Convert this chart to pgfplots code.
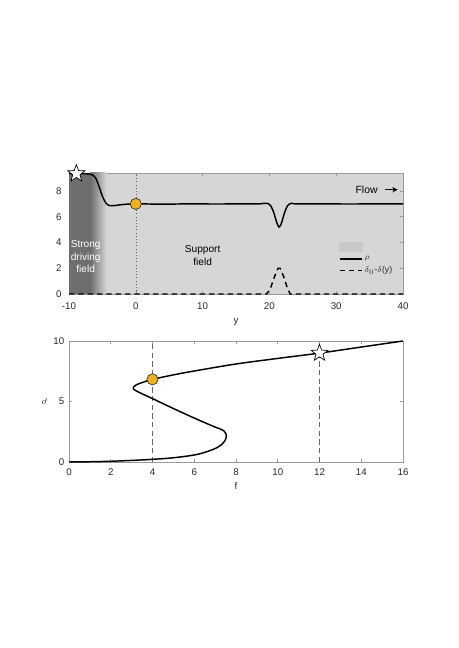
\documentclass[border=0pt]{standalone}
\usepackage{pgfplots}
\pgfplotsset{compat=1.18}
\usepackage{fontspec}
\setmainfont{Liberation Sans}
\usetikzlibrary{arrows.meta}
\definecolor{mlorange}{HTML}{EDB120}
\definecolor{bgfield}{gray}{0.84}
\definecolor{darkfield}{gray}{0.43}

% five point star, outline
\pgfdeclareplotmark{fivestar}{%
  \pgfpathmoveto{\pgfpointpolar{90}{\pgfplotmarksize}}%
  \pgfpathlineto{\pgfpointpolar{126}{0.42\pgfplotmarksize}}%
  \pgfpathlineto{\pgfpointpolar{162}{\pgfplotmarksize}}%
  \pgfpathlineto{\pgfpointpolar{198}{0.42\pgfplotmarksize}}%
  \pgfpathlineto{\pgfpointpolar{234}{\pgfplotmarksize}}%
  \pgfpathlineto{\pgfpointpolar{270}{0.42\pgfplotmarksize}}%
  \pgfpathlineto{\pgfpointpolar{306}{\pgfplotmarksize}}%
  \pgfpathlineto{\pgfpointpolar{342}{0.42\pgfplotmarksize}}%
  \pgfpathlineto{\pgfpointpolar{18}{\pgfplotmarksize}}%
  \pgfpathlineto{\pgfpointpolar{54}{0.42\pgfplotmarksize}}%
  \pgfpathclose\pgfusepathqfillstroke}

\pgfplotsset{
  mlstyle/.style={
    scale only axis, width=250.5pt, height=90.75pt,
    anchor=south west,
    axis line style={black!40}, tick style={black!40, line width=0.4pt},
    major tick length=2.4pt,
    tick label style={font=\fontsize{7.3}{8.5}\selectfont, text=black!85},
    label style={font=\fontsize{7.3}{8.5}\selectfont, text=black!85},
    /pgf/number format/assume math mode=true,
    clip=false,
  },
}

\begin{document}
\begin{tikzpicture}[font=\fontsize{7.3}{8.5}\selectfont]
\useasboundingbox (0,0) rectangle (343.5pt,486pt);

% ---- top: profile along y
\begin{axis}[mlstyle, at={(51.75pt,265.5pt)},
  xmin=-10, xmax=40, ymin=0, ymax=9.4,
  xtick={-10,0,...,40}, ytick={0,2,...,8},
  xticklabel style={yshift=-3pt},
  yticklabel style={xshift=-2pt},
  axis background/.style={fill=bgfield},
  xlabel={y},
  x label style={at={(axis description cs:0.5,-0.24)}, anchor=base},
  legend style={at={(0.795,0.465)}, anchor=north west, draw=none, fill=none,
    font=\fontsize{6.5}{7.5}\selectfont, row sep=1.2pt, text=black!85,
    nodes={inner sep=1.2pt}},
  legend cell align=left,
]
\addplot[draw=none, fill=darkfield, forget plot] coordinates {(-10,0) (-6.8,0) (-6.8,9.4) (-10,9.4)} --cycle;
\addplot[draw=none, left color=darkfield, right color=bgfield, forget plot] coordinates {(-6.8,0) (-4.4,0) (-4.4,9.4) (-6.8,9.4)} --cycle;
\addplot[black!60, dotted, line width=0.4pt, forget plot] coordinates {(0,0) (0,9.4)};

\addlegendimage{legend image code/.code={\fill[black!21] (0cm,-0.12cm) rectangle (0.6cm,0.12cm);}}
\addlegendentry{\strut}

\addplot[black, line width=1.1pt, smooth, tension=0.5] coordinates {
  (-10,9.35) (-8,9.35) (-7,9.32) (-6.5,9.25) (-6,9.0) (-5.5,8.35) (-5,7.6)
  (-4.5,7.08) (-4,6.88) (-3.3,6.86) (-2,6.95) (0,7.0) (4,6.98) (8,7.0)
  (12,6.99) (16,7.0) (18.5,7.0) (19.6,7.05) (20.2,6.85) (20.7,6.25)
  (21.1,5.55) (21.45,5.2) (21.8,5.5) (22.2,6.2) (22.7,6.85) (23.3,7.05)
  (24,7.0) (28,7.0) (32,6.99) (36,7.0) (40,7.0)};
\addlegendentry{$\rho$}

\addplot[black, line width=1.1pt, dash pattern=on 4pt off 3pt] coordinates {
  (-10,0) (19.6,0) (20.2,0.5) (20.8,1.4) (21.3,2.0) (21.6,2.0) (22.1,1.4)
  (22.6,0.6) (23.1,0) (40,0)};
\addlegendentry{$\delta_0$-$\delta$(y)}

\addplot[only marks, mark=fivestar, mark size=6.8pt, fill=white, draw=black, line width=0.5pt, forget plot] coordinates {(-8.9,9.35)};
\addplot[only marks, mark=*, mark size=4.2pt, fill=mlorange, draw=black!80, line width=0.5pt, forget plot] coordinates {(0,7.0)};

\node[align=center, text=white, font=\fontsize{7.6}{9.6}\selectfont] at (axis cs:-7.5,2.9) {Strong\\driving\\field};
\node[align=center, font=\fontsize{7.6}{9.6}\selectfont] at (axis cs:10,3.0) {Support\\field};
\node[anchor=east, font=\fontsize{7.8}{9}\selectfont] at (axis cs:36.9,8.1) {Flow};
\draw[-{Stealth[length=4pt,width=4pt]}, line width=1.1pt] (axis cs:37.3,8.1) -- (axis cs:39.2,8.1);
\end{axis}

% ---- bottom: S-curve rho vs f
\begin{axis}[mlstyle, at={(51.75pt,139.5pt)},
  xmin=0, xmax=16, ymin=0, ymax=10,
  xtick={0,2,...,16}, ytick={0,5,10},
  xticklabel style={yshift=-1.5pt},
  xlabel={f}, ylabel={$\rho$},
  x label style={at={(axis description cs:0.5,-0.226)}, anchor=base},
  y label style={at={(axis description cs:-0.073,0.5)}, anchor=center, rotate=90},
]
\addplot[black!60, line width=0.5pt, dash pattern=on 4pt off 2.5pt] coordinates {(4,0) (4,10)};
\addplot[black!60, line width=0.5pt, dash pattern=on 4pt off 2.5pt] coordinates {(12,0) (12,10)};
\addplot[black, line width=1.1pt, smooth, tension=0.6] coordinates {
  (0,0) (1,0.02) (2,0.06) (3,0.13) (4,0.22) (5,0.35) (6,0.58) (6.6,0.85)
  (7.1,1.2) (7.4,1.6) (7.54,2.12) (7.4,2.6) (6.95,2.92) (5.95,3.67)
  (4.9,4.5) (4,5.24) (3.4,5.72) (3.08,6.05) (3.2,6.35) (3.6,6.62)
  (4,6.83) (5,7.2) (6,7.52) (8,8.1) (10,8.56) (12,9.0) (14,9.5) (16,10.0)};
\addplot[only marks, mark=fivestar, mark size=6.6pt, fill=white, draw=black, line width=0.5pt] coordinates {(12,9.0)};
\addplot[only marks, mark=*, mark size=4.2pt, fill=mlorange, draw=black!80, line width=0.5pt] coordinates {(4,6.83)};
\end{axis}
\end{tikzpicture}
\end{document}
